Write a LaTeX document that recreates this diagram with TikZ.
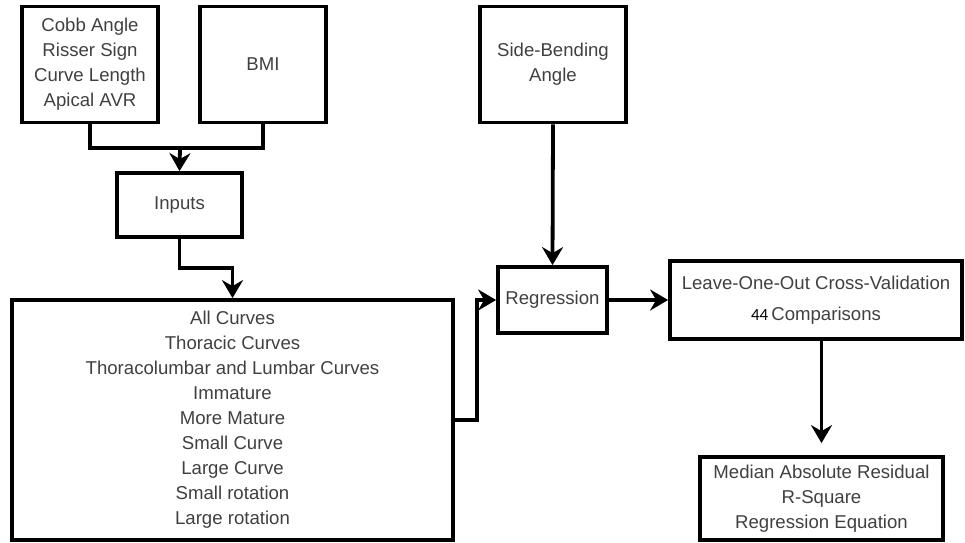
\documentclass[tikz,border=0pt]{standalone}
\usepackage{fontspec}
\setmainfont{Liberation Sans}
\newfontfamily\calfont{Carlito}
\usetikzlibrary{arrows.meta}
\definecolor{txt}{HTML}{404040}
\tikzset{
  x=1pt, y=1pt,
  box/.style={draw=black, line width=3.8pt, inner sep=0pt, align=center,
    text=txt, font=\fontsize{18.6}{25}\selectfont},
  conn/.style={draw=black, line width=3.8pt},
  arr/.style={conn, -{Stealth[length=18pt,width=21pt,inset=6pt]}}
}
\begin{document}
\begin{tikzpicture}
\useasboundingbox (0,0) rectangle (965,-542);
\node[box, minimum width=136, minimum height=116] (A) at (90,-64.5)
  {Cobb Angle\\Risser Sign\\Curve Length\\Apical AVR};
\node[box, minimum width=126, minimum height=116] (B) at (263,-64.5) {BMI};
\node[box, minimum width=125, minimum height=64] (I) at (179.5,-205) {Inputs};
\node[box, minimum width=441, minimum height=240] (G) at (232.5,-420)
  {All Curves\\Thoracic Curves\\Thoracolumbar and Lumbar Curves\\Immature\\More Mature\\Small Curve\\Large Curve\\Small rotation\\Large rotation};
\node[box, minimum width=146, minimum height=116] (S) at (553,-64.5) {Side-Bending\\Angle};
\node[box, minimum width=109, minimum height=66] (R) at (552.5,-300) {Regression};
\node[box, minimum width=292, minimum height=78, font=\fontsize{18.6}{31}\selectfont] (L) at (816,-300)
  {Leave-One-Out Cross-Validation\\{\calfont\fontsize{17}{17}\selectfont\color{black}44}\,Comparisons};
\node[box, minimum width=243, minimum height=83] (E) at (821.5,-498.5)
  {Median Absolute Residual\\R-Square\\Regression Equation};
\coordinate (j) at (180,-148);
\coordinate (k) at (232.5,-268);
\draw[conn] (A.south) |- (j) -| (B.south);
\draw[arr] (j) -- (I.north);
\draw[arr] (I.south) |- (k) -- (G.north);
\draw[arr] (G.east) -- ++(22,0) |- (R.west);
\draw[arr] (S.south) -- (R.north);
\draw[arr] (R.east) -- (R.east -| L.west);
\draw[arr, shorten >=12pt] (L.south -| E.north) -- (E.north);
\end{tikzpicture}
\end{document}
